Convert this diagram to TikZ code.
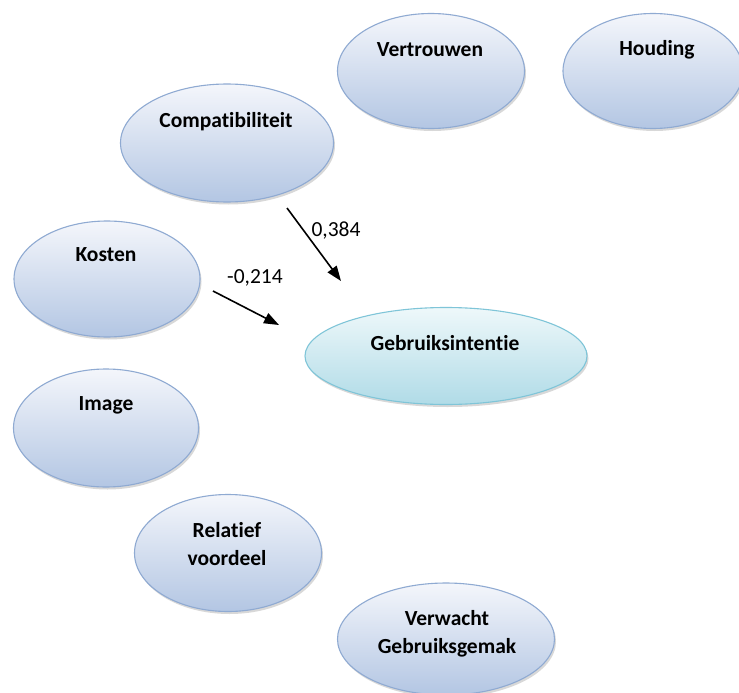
\documentclass[tikz,border=0pt]{standalone}
\usepackage{fontspec}
\setmainfont{Carlito}[Ligatures=NoCommon]
\usetikzlibrary{arrows.meta,shadows,calc,shapes.geometric}
\definecolor{blueedge}{HTML}{8FAAD2}
\definecolor{bluetop}{HTML}{F4F6FB}
\definecolor{bluebot}{HTML}{B3C6E3}
\definecolor{cyanedge}{HTML}{7FC5D8}
\definecolor{cyantop}{HTML}{EEF8FA}
\definecolor{cyanbot}{HTML}{B0DBE7}
\tikzset{
  ell/.style={ellipse, draw=blueedge, line width=1.1pt, top color=bluetop, bottom color=bluebot,
    inner sep=0pt, drop shadow={shadow xshift=1.5pt, shadow yshift=-2.5pt, opacity=0.3}},
  ellc/.style={ell, draw=cyanedge, top color=cyantop, bottom color=cyanbot},
  txt/.style={font=\fontsize{21.5}{28}\selectfont\bfseries, align=center, inner sep=0pt},
  lbl/.style={font=\fontsize{21.5}{28}\selectfont, inner sep=0pt},
  arr/.style={line width=1.6pt, -{Triangle[length=15pt,width=11pt]}}
}
\begin{document}
\begin{tikzpicture}[x=1pt,y=-1pt]
\useasboundingbox (0,0) rectangle (739,693);
\fill[white] (0,0) rectangle (739,693);
% ellipses
\node[ell, minimum width=187pt, minimum height=115pt] (vert) at (431,71) {};
\node[ell, minimum width=180pt, minimum height=115pt] (houd) at (653,71) {};
\node[ell, minimum width=213pt, minimum height=118pt] (comp) at (227,143) {};
\node[ell, minimum width=186pt, minimum height=116pt] (kost) at (107,279) {};
\node[ellc, minimum width=282pt, minimum height=97pt] (gebr) at (446,356) {};
\node[ell, minimum width=185pt, minimum height=118pt] (imag) at (106,428) {};
\node[ell, minimum width=187pt, minimum height=117pt] (rela) at (228,553) {};
\node[ell, minimum width=217pt, minimum height=112pt] (verw) at (446,639) {};
% texts
\node[txt] (tvert) at (430,50) {Vertrouwen};
\node[txt] (thoud) at (657,50) {Houding};
\node[txt] (tcomp) at (226,122) {Compatibiliteit};
\node[txt] (tkost) at (106,255) {Kosten};
\node[txt] (tgebr) at (445,343) {Gebruiksintentie};
\node[txt] (timag) at (106,405) {Image};
\node[txt] (trela) at (227,544) {Relatief\\voordeel};
\node[txt] (tverw) at (447,634) {Verwacht\\Gebruiksgemak};
% arrows
\coordinate (a1s) at (287,208);
\coordinate (a1e) at (341,281);
\coordinate (a2s) at (213,291);
\coordinate (a2e) at (279,325);
\draw[arr] (a1s) -- (a1e);
\draw[arr] (a2s) -- (a2e);
\node[lbl] (l1) at (336,231) {0,384};
\node[lbl] (l2) at (255,278) {-0,214};
\end{tikzpicture}
\end{document}
